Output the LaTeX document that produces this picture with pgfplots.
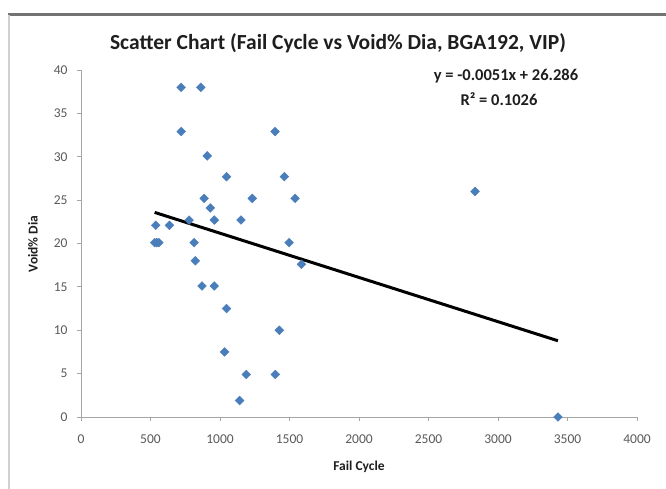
\documentclass[border=0pt]{standalone}
\usepackage{fontspec}
\setmainfont{Carlito}
\usepackage{pgfplots}
\pgfplotsset{compat=1.18}
\definecolor{ptblue}{RGB}{74,126,187}
\definecolor{axgray}{RGB}{165,165,165}
\definecolor{lblgray}{RGB}{90,90,90}
\definecolor{ttl}{RGB}{30,30,30}
\begin{document}
\begin{tikzpicture}[x=1bp,y=1bp]
\path[use as bounding box] (0,0) rectangle (666,489);
\fill[white] (0,0) rectangle (666,489);
\draw[color=black!55, line width=3bp] (8,474) -- (666,474);
\draw[color=black!18, line width=1.5bp] (9,0) -- (9,474);
\begin{axis}[
  at={(81bp,72bp)}, anchor=south west,
  width=556bp, height=347bp, scale only axis,
  xmin=0, xmax=4000, ymin=0, ymax=40,
  axis lines*=left,
  axis line style={axgray, line width=0.8bp},
  xtick distance=500, ytick distance=5,
  tick style={axgray, line width=0.8bp},
  tick align=outside, major tick length=4bp,
  tick label style={font=\fontsize{13.5bp}{15bp}\selectfont, text=lblgray},
  /pgf/number format/assume math mode=true,
  /pgf/number format/1000 sep={},
  xticklabel style={yshift=-10bp},
  yticklabel style={xshift=-6bp},
  xlabel={Fail Cycle},
  label style={font=\bfseries\fontsize{13.5bp}{15bp}\selectfont, text=ttl},
  xlabel style={at={(axis description cs:0.5,0)}, anchor=center, yshift=-50bp},
  clip=false,
]
\addplot[only marks, mark=square*, mark size=3.1bp,
  mark options={rotate=45, fill=ptblue, draw=ptblue}] coordinates {
(720,38) (862,38) (721,32.9) (908,30.1) (1047,27.7) (886,25.2) (930,24.1)
(778,22.7) (959,22.7) (1151,22.7) (1232,25.2) (1396,32.9) (1463,27.7)
(1540,25.2) (1497,20.1) (538,22.1) (636,22.1) (530,20.1) (545,20.1) (560,20.1)
(814,20.1) (822,18.0) (870,15.1) (959,15.1) (1047,12.5) (1033,7.5) (1427,10.0)
(1189,4.9) (1398,4.9) (1141,1.9) (1586,17.6) (2835,26.0) (3431,0)
};
\addplot[black, line width=3bp, no marks] coordinates {(530,23.583) (3431,8.788)};
\end{axis}
\node[rotate=90, font=\bfseries\fontsize{13.5bp}{15bp}\selectfont, text=ttl] at (33,245) {Void\% Dia};
\node[font=\bfseries\fontsize{21.5bp}{24bp}\selectfont, text=ttl] at (338,446) {Scatter Chart (Fail Cycle vs Void\% Dia, BGA192, VIP)};
\node[font=\bfseries\fontsize{16.5bp}{20bp}\selectfont, text=ttl] at (506,413) {y = -0.0051x + 26.286};
\node[font=\bfseries\fontsize{16.5bp}{20bp}\selectfont, text=ttl] at (499,390) {R² = 0.1026};
\end{tikzpicture}
\end{document}
